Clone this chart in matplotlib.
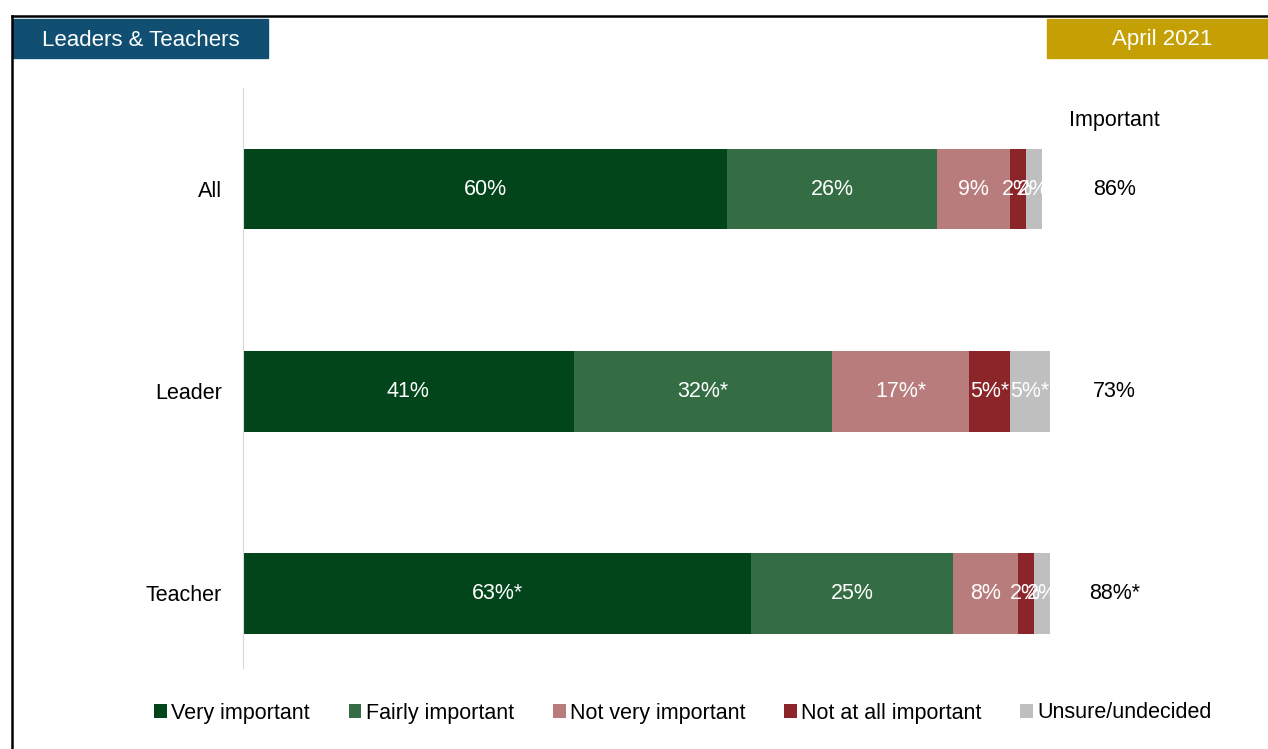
import numpy as np
import matplotlib.pyplot as plt
from matplotlib.patches import Rectangle
from matplotlib.lines import Line2D

plt.rcParams['font.family'] = ['Liberation Sans', 'DejaVu Sans']

# data
groups = ['All', 'Leader', 'Teacher']
series = ['Very important', 'Fairly important', 'Not very important',
          'Not at all important', 'Unsure/undecided']
very_important = [60, 41, 63]
fairly_important = [26, 32, 25]
not_very_important = [9, 17, 8]
not_at_all_important = [2, 5, 2]
unsure = [2, 5, 2]
values = [very_important, fairly_important, not_very_important,
          not_at_all_important, unsure]
seg_labels = [
    ['60%', '41%', '63%*'],
    ['26%', '32%*', '25%'],
    ['9%', '17%*', '8%'],
    ['2%', '5%*', '2%'],
    ['2%', '5%*', '2%'],
]
important = ['86%', '73%', '88%*']
colors = ['#02451A', '#346D43', '#B87C7C', '#8B2529', '#BFBFBF']

FS = 15.5
W, H = 1268, 749
fig = plt.figure(figsize=(W / 100, H / 100), dpi=100)

# frame and header boxes (figure pixel coords)
fig.add_artist(Line2D([12 / W, 1], [1 - 16 / H, 1 - 16 / H], color='black', lw=1.8))
fig.add_artist(Line2D([12 / W, 12 / W], [0, 1 - 16 / H], color='black', lw=1.8))
fig.add_artist(Rectangle((13 / W, 1 - 58 / H), (268 - 13) / W, 39 / H,
                         color='#114F72', transform=fig.transFigure))
fig.text(141 / W, 1 - 40 / H, 'Leaders & Teachers', color='white', fontsize=16,
         ha='center', va='center')
fig.add_artist(Rectangle((1047 / W, 1 - 58 / H), (1268 - 1047) / W, 39 / H,
                         color='#C4A004', transform=fig.transFigure))
fig.text(1162 / W, 1 - 40 / H, 'April 2021', color='white', fontsize=16,
         ha='center', va='center')

ax = fig.add_axes([243 / W, 1 - 668 / H, (1050 - 243) / W, (668 - 88) / H])
y = np.arange(len(groups))
left = np.zeros(len(groups))
for vals, labs, col, name in zip(values, seg_labels, colors, series):
    bars = ax.bar(left, height=0.4, width=vals, bottom=y - 0.2, align='edge',
                  color=col, label=name)
    ax.bar_label(bars, labels=labs, label_type='center', color='white', fontsize=FS)
    left += np.array(vals)

ax.set_xlim(0, 100)
ax.set_ylim(2.37, -0.5)
ax.set_yticks(y)
ax.set_yticklabels(groups, fontsize=FS)
ax.tick_params(axis='y', length=0, pad=15)
ax.set_xticks([])
for s in ['top', 'right', 'bottom']:
    ax.spines[s].set_visible(False)
ax.spines['left'].set_color('#D9D9D9')

# Important column
ax.text(108, -0.34, 'Important', fontsize=FS, ha='center', va='center', clip_on=False)
for i, t in enumerate(important):
    ax.text(108, i, t, fontsize=FS, ha='center', va='center', clip_on=False)

fig.legend(loc='center', bbox_to_anchor=(683 / W, 1 - 713 / H), ncol=5, frameon=False,
           fontsize=FS, handlelength=0.6, handleheight=0.6, handletextpad=0.2,
           columnspacing=1.8)

fig.savefig('out.png', dpi=100)
